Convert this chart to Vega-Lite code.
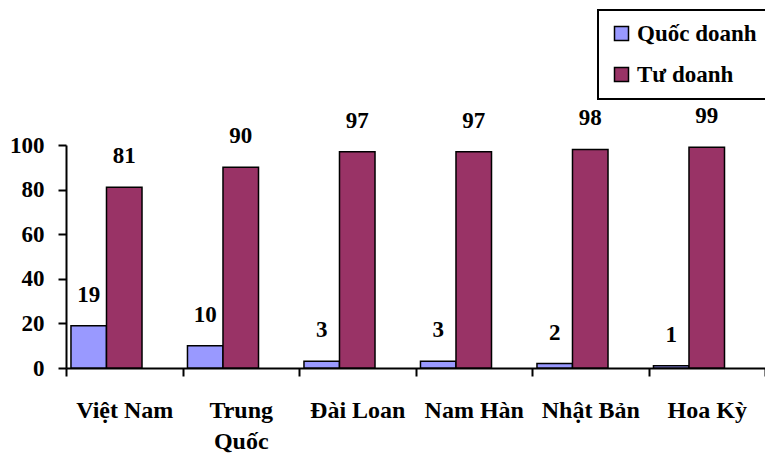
{
  "$schema": "https://vega.github.io/schema/vega-lite/v6.json",
  "autosize": "none",
  "width": 699,
  "height": 223,
  "padding": {"left": 66, "top": 145, "right": 0, "bottom": 93},
  "background": "white",
  "config": {
    "view": {"stroke": null},
    "font": "'Liberation Serif', 'Times New Roman', serif",
    "axis": {"labelFont": "'Liberation Serif', 'Times New Roman', serif", "labelFontWeight": "bold", "labelColor": "black", "domainColor": "black", "tickColor": "black", "domainWidth": 2, "tickWidth": 2, "grid": false, "title": null}
  },
  "data": {
    "values": [
      {"nuoc": "Việt Nam", "loai": "Quốc doanh", "tyle": 19},
      {"nuoc": "Việt Nam", "loai": "Tư doanh", "tyle": 81},
      {"nuoc": "Trung Quốc", "loai": "Quốc doanh", "tyle": 10},
      {"nuoc": "Trung Quốc", "loai": "Tư doanh", "tyle": 90},
      {"nuoc": "Đài Loan", "loai": "Quốc doanh", "tyle": 3},
      {"nuoc": "Đài Loan", "loai": "Tư doanh", "tyle": 97},
      {"nuoc": "Nam Hàn", "loai": "Quốc doanh", "tyle": 3},
      {"nuoc": "Nam Hàn", "loai": "Tư doanh", "tyle": 97},
      {"nuoc": "Nhật Bản", "loai": "Quốc doanh", "tyle": 2},
      {"nuoc": "Nhật Bản", "loai": "Tư doanh", "tyle": 98},
      {"nuoc": "Hoa Kỳ", "loai": "Quốc doanh", "tyle": 1},
      {"nuoc": "Hoa Kỳ", "loai": "Tư doanh", "tyle": 99}
    ]
  },
  "encoding": {
    "x": {
      "field": "nuoc",
      "type": "nominal",
      "sort": null,
      "scale": {"paddingInner": 0, "paddingOuter": 0},
      "axis": {
        "labelAngle": 0,
        "labelFontSize": 24,
        "labelPadding": 22,
        "labelLineHeight": 31,
        "tickSize": 8,
        "tickBand": "extent",
        "labelExpr": "datum.label == 'Trung Quốc' ? ['Trung', 'Quốc'] : datum.label"
      }
    },
    "xOffset": {
      "field": "loai",
      "type": "nominal",
      "scale": {"domain": ["Quốc doanh", "Tư doanh", "_"], "paddingInner": 0, "paddingOuter": 0.14}
    },
    "y": {
      "field": "tyle",
      "type": "quantitative",
      "scale": {"domain": [0, 100], "nice": false},
      "axis": {"values": [0, 20, 40, 60, 80, 100], "labelFontSize": 23, "tickSize": 8, "labelPadding": 14}
    }
  },
  "layer": [
    {
      "mark": {"type": "bar", "stroke": "black", "strokeWidth": 1.5},
      "encoding": {
        "fill": {
          "field": "loai",
          "type": "nominal",
          "scale": {"domain": ["Quốc doanh", "Tư doanh"], "range": ["#9999FF", "#993366"]},
          "legend": {
            "title": null,
            "orient": "none",
            "legendX": 532,
            "legendY": -135,
            "strokeColor": "black",
            "padding": 12,
            "symbolType": "square",
            "symbolSize": 196,
            "symbolStrokeColor": "black",
            "symbolStrokeWidth": 1.5,
            "labelFont": "'Liberation Serif', 'Times New Roman', serif",
            "labelFontWeight": "bold",
            "labelFontSize": 23,
            "labelColor": "black",
            "labelOffset": 4,
            "rowPadding": 17,
            "labelLimit": 300,
            "encode": {"legend": {"update": {"strokeWidth": {"value": 2}}}}
          }
        }
      }
    },
    {
      "mark": {"type": "text", "font": "'Liberation Serif', 'Times New Roman', serif", "fontWeight": "bold", "fontSize": 23, "baseline": "alphabetic", "dy": -24, "color": "black"},
      "encoding": {"text": {"field": "tyle", "type": "quantitative"}}
    }
  ]
}
